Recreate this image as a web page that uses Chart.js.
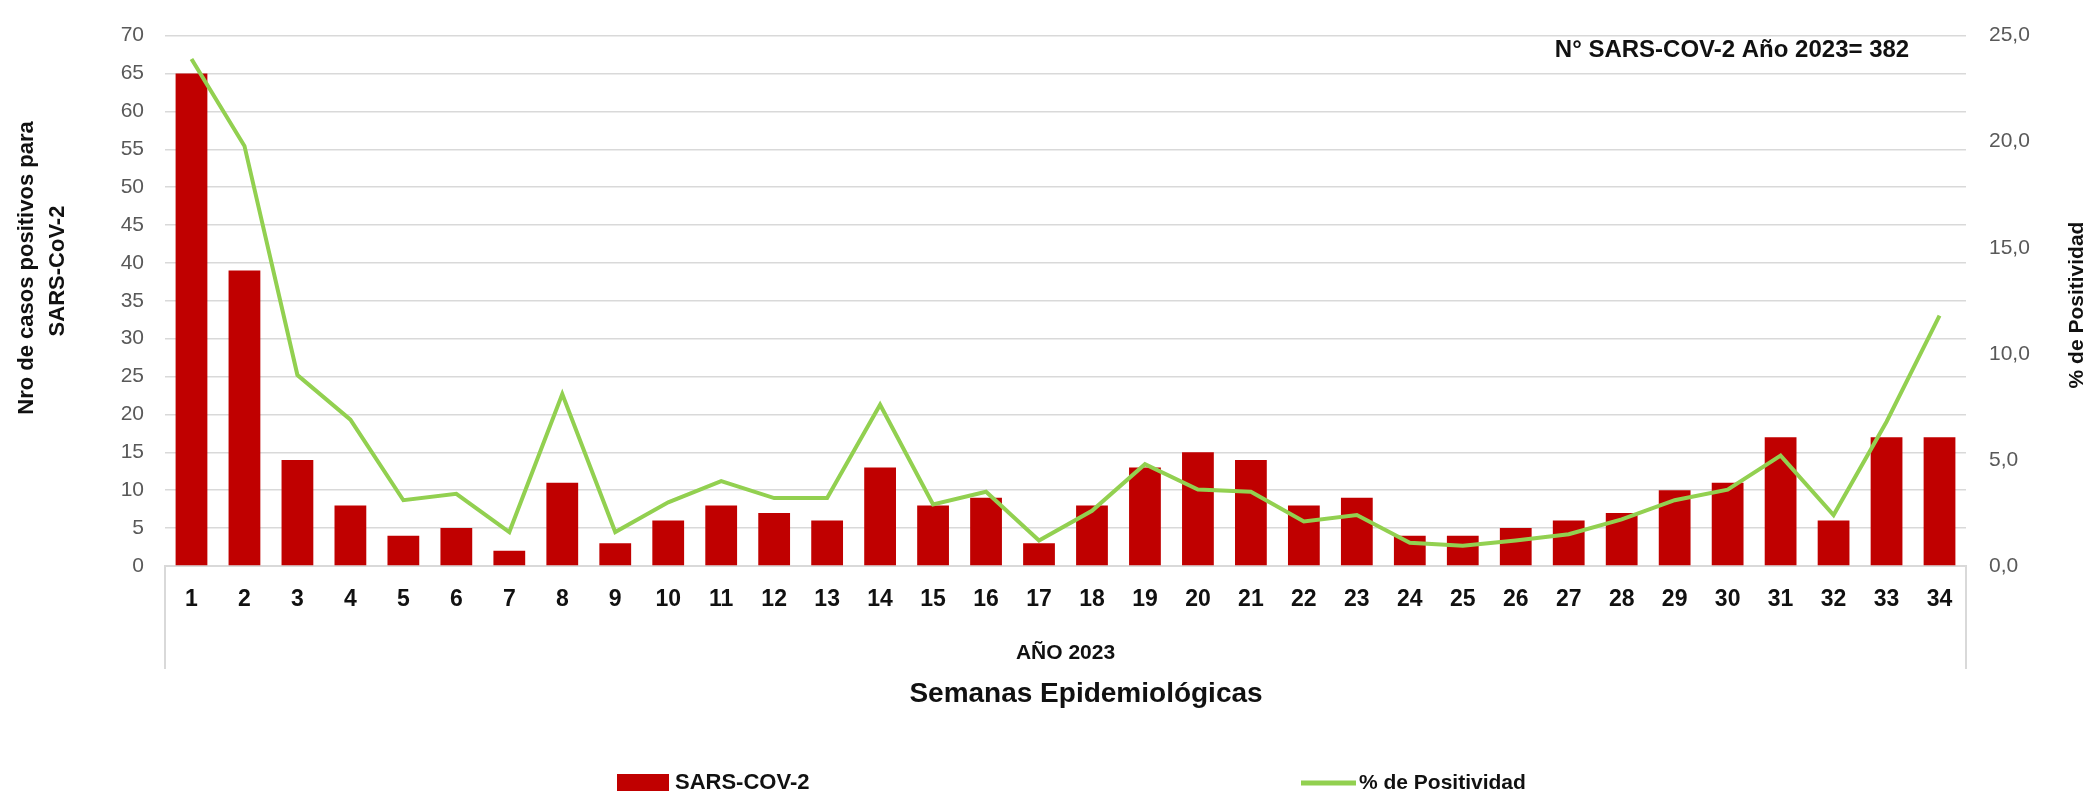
<!DOCTYPE html>
<html>
<head>
<meta charset="utf-8">
<script src="https://cdn.jsdelivr.net/npm/chart.js@4.4.1/dist/chart.umd.min.js"></script>
<style>
html,body{margin:0;padding:0;background:#ffffff;}
#wrap{width:2090px;height:793px;position:relative;}
</style>
</head>
<body>
<div id="wrap"><canvas id="c" width="2090" height="793"></canvas></div>
<script>
// ---- data ----
const weeks = ['1','2','3','4','5','6','7','8','9','10','11','12','13','14','15','16','17',
               '18','19','20','21','22','23','24','25','26','27','28','29','30','31','32','33','34'];
const sarsCov2Cases = [65,39,14,8,4,5,2,11,3,6,8,7,6,13,8,9,3,8,13,15,14,8,9,4,4,5,6,7,10,11,17,6,17,17];
const positivityPct = [23.9,19.8,9.0,6.9,3.1,3.4,1.6,8.1,1.6,3.0,4.0,3.2,3.2,7.6,2.9,3.5,1.2,2.6,4.8,3.6,3.5,2.1,2.4,1.1,0.95,1.2,1.5,2.2,3.1,3.6,5.2,2.4,6.8,11.8];
const seriesNames = ['SARS-COV-2', '% de Positividad'];
const leftAxisTitle = ['Nro de casos positivos para', 'SARS-CoV-2'];
const rightAxisTitle = '% de Positividad';
const xGroupLabel = 'AÑO 2023';
const xAxisTitle = 'Semanas Epidemiológicas';
const annotationText = 'N° SARS-COV-2 Año 2023= 382';
const leftAxisMax = 70, leftAxisStep = 5;
const rightAxisMax = 25, rightAxisStep = 5;

// ---- styles ----
const FONT = "'Liberation Sans', Arial, sans-serif";
const BAR_COLOR = '#C00000';
const LINE_COLOR = '#92D050';
const GRID_COLOR = '#D9D9D9';
const TICK_COLOR = '#595959';
const TEXT_COLOR = '#111111';

Chart.defaults.font.family = FONT;

const extras = {
  id: 'extras',
  afterDraw(chart) {
    const ctx = chart.ctx;
    const a = chart.chartArea;
    ctx.save();
    // category group box (left/right borders)
    ctx.strokeStyle = GRID_COLOR;
    ctx.lineWidth = 2;
    ctx.beginPath();
    ctx.moveTo(a.left, a.bottom); ctx.lineTo(a.left, a.bottom + 103);
    ctx.moveTo(a.right, a.bottom); ctx.lineTo(a.right, a.bottom + 103);
    ctx.stroke();

    ctx.fillStyle = TEXT_COLOR;
    ctx.textAlign = 'center';
    ctx.textBaseline = 'middle';
    ctx.font = 'bold 21px ' + FONT;
    ctx.fillText(xGroupLabel, (a.left + a.right) / 2, a.bottom + 87);

    ctx.font = 'bold 28px ' + FONT;
    ctx.fillText(xAxisTitle, 1086, 694);

    // annotation
    ctx.font = 'bold 24px ' + FONT;
    ctx.fillText(annotationText, 1732, 50);

    // left axis title (two lines, rotated)
    ctx.font = 'bold 22px ' + FONT;
    ctx.save();
    ctx.translate(27, 268);
    ctx.rotate(-Math.PI / 2);
    ctx.fillText(leftAxisTitle[0], 0, 0);
    ctx.restore();
    ctx.save();
    ctx.translate(58, 271);
    ctx.rotate(-Math.PI / 2);
    ctx.fillText(leftAxisTitle[1], 0, 0);
    ctx.restore();

    // right axis title
    ctx.font = 'bold 21px ' + FONT;
    ctx.save();
    ctx.translate(2077, 305);
    ctx.rotate(-Math.PI / 2);
    ctx.fillText(rightAxisTitle, 0, 0);
    ctx.restore();

    // legend
    const ds = chart.data.datasets;
    ctx.textAlign = 'left';
    ctx.font = 'bold 22px ' + FONT;
    ctx.fillStyle = ds[1].backgroundColor;
    ctx.fillRect(617, 774, 52, 17);
    ctx.fillStyle = TEXT_COLOR;
    ctx.fillText(ds[1].label, 675, 783);

    ctx.strokeStyle = ds[0].borderColor;
    ctx.lineWidth = 5;
    ctx.beginPath();
    ctx.moveTo(1301, 783); ctx.lineTo(1356, 783);
    ctx.stroke();
    ctx.font = 'bold 21px ' + FONT;
    ctx.fillText(ds[0].label, 1359, 783);
    ctx.restore();
  }
};

new Chart(document.getElementById('c'), {
  data: {
    labels: weeks,
    datasets: [
      {
        type: 'line',
        label: seriesNames[1],
        data: positivityPct,
        yAxisID: 'y1',
        borderColor: LINE_COLOR,
        backgroundColor: LINE_COLOR,
        borderWidth: 4,
        pointRadius: 0,
        tension: 0,
        order: 0
      },
      {
        type: 'bar',
        label: seriesNames[0],
        data: sarsCov2Cases,
        yAxisID: 'y',
        backgroundColor: BAR_COLOR,
        borderWidth: 0,
        barPercentage: 0.6,
        categoryPercentage: 1.0,
        order: 1
      }
    ]
  },
  options: {
    responsive: false,
    animation: false,
    layout: { padding: { top: 26, left: 0, right: 0, bottom: 0 } },
    plugins: {
      legend: { display: false },
      tooltip: { enabled: false },
      title: { display: false }
    },
    scales: {
      x: {
        type: 'category',
        offset: true,
        grid: { display: false, drawTicks: false },
        border: { display: true, color: GRID_COLOR, width: 2 },
        ticks: {
          color: TEXT_COLOR,
          font: { size: 23, weight: 'bold' },
          padding: 20,
          maxRotation: 0,
          autoSkip: false
        },
        afterFit(scale) { scale.height = 227; }
      },
      y: {
        position: 'left',
        min: 0,
        max: leftAxisMax,
        ticks: {
          stepSize: leftAxisStep,
          color: TICK_COLOR,
          font: { size: 21 },
          padding: 21
        },
        grid: { color: GRID_COLOR, lineWidth: 1.5, drawTicks: false },
        border: { display: false },
        afterFit(scale) { scale.width = 165; }
      },
      y1: {
        position: 'right',
        min: 0,
        max: rightAxisMax,
        ticks: {
          stepSize: rightAxisStep,
          color: TICK_COLOR,
          font: { size: 21 },
          padding: 23,
          callback: (v) => Number(v).toFixed(1).replace('.', ',')
        },
        grid: { drawOnChartArea: false, drawTicks: false },
        border: { display: false },
        afterFit(scale) { scale.width = 124; }
      }
    }
  },
  plugins: [extras]
});
</script>
</body>
</html>
